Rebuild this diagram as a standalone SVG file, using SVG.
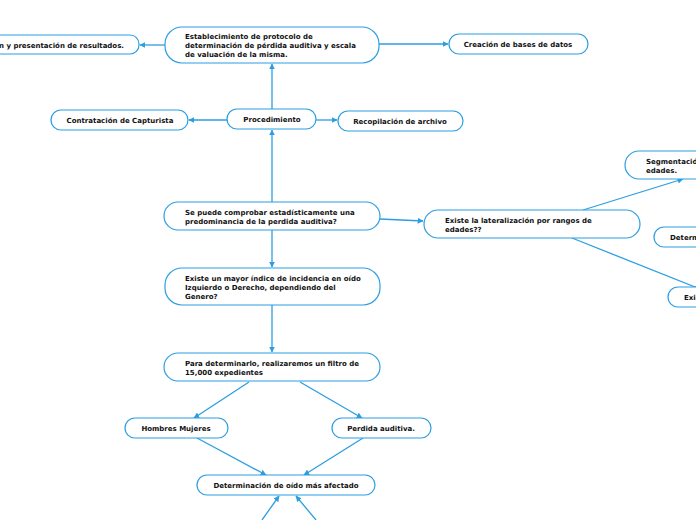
<svg xmlns="http://www.w3.org/2000/svg" width="696" height="520" viewBox="0 0 696 520">
<style>
.n{fill:#fff;stroke:#2b9ee2;stroke-width:1.2}
.t{font-family:"DejaVu Sans",Verdana,sans-serif;font-weight:bold;font-size:7px;fill:#111}
.c{text-anchor:middle}
.e{fill:none;stroke:#2b9ee2;stroke-width:1.3;marker-end:url(#a)}
</style>
<defs>
<marker id="a" viewBox="0 0 10 10" refX="9" refY="5" markerWidth="6" markerHeight="6" markerUnits="userSpaceOnUse" orient="auto">
<path d="M0,0L10,5L0,10z" fill="#2b9ee2"/>
</marker>
</defs>
<rect width="696" height="520" fill="#fff"/>
<g id="connectors">
<path class="e" d="M165,45H140"/>
<path class="e" d="M379,44H448"/>
<path class="e" d="M272,109V64"/>
<path class="e" d="M227,120H189"/>
<path class="e" d="M316,120H337"/>
<path class="e" d="M272,202V130"/>
<path class="e" d="M380,219L423,221"/>
<path class="e" d="M583,210L683,179"/>
<path class="e" d="M572,238L700,289"/>
<path class="e" d="M272,230V267"/>
<path class="e" d="M272,305V352"/>
<path class="e" d="M249,382L194,418"/>
<path class="e" d="M300,382L362,418"/>
<path class="e" d="M197,438L266,475"/>
<path class="e" d="M363,438L304,475"/>
<path class="e" d="M262,520L279,496"/>
<path class="e" d="M316,520L296,496"/>
</g>
<g id="n1"><rect class="n" x="165" y="27" width="214" height="36" rx="17"/>
<text class="t" x="185" y="39">Establecimiento de protocolo de</text>
<text class="t" x="185" y="48">determinación de pérdida auditiva y escala</text>
<text class="t" x="185" y="57">de valuación de la misma.</text></g>
<g id="n2"><rect class="n" x="-30" y="35" width="169" height="19" rx="9"/>
<text class="t" x="124" y="47.5" text-anchor="end">ión y presentación de resultados.</text></g>
<g id="n3"><rect class="n" x="449" y="34" width="139" height="20" rx="10"/>
<text class="t c" x="518" y="47">Creación de bases de datos</text></g>
<g id="n4"><rect class="n" x="51" y="110" width="137" height="20" rx="10"/>
<text class="t c" x="120" y="123">Contratación de Capturista</text></g>
<g id="n5"><rect class="n" x="227" y="109" width="89" height="20" rx="10"/>
<text class="t c" x="272" y="122">Procedimiento</text></g>
<g id="n6"><rect class="n" x="338" y="111" width="125" height="20" rx="10"/>
<text class="t c" x="400" y="124">Recopilación de archivo</text></g>
<g id="n7"><rect class="n" x="164" y="202" width="216" height="28" rx="14"/>
<text class="t" x="185" y="215">Se puede comprobar estadísticamente una</text>
<text class="t" x="185" y="224">predominancia de la perdida auditiva?</text></g>
<g id="n8"><rect class="n" x="424" y="210" width="216" height="28" rx="14"/>
<text class="t" x="445" y="223">Existe la lateralización por rangos de</text>
<text class="t" x="445" y="232">edades??</text></g>
<g id="n9"><rect class="n" x="625" y="151" width="120" height="28" rx="14"/>
<text class="t" x="646" y="164">Segmentación</text>
<text class="t" x="646" y="173">edades.</text></g>
<g id="n10"><rect class="n" x="654" y="227" width="100" height="20" rx="10"/>
<text class="t" x="670" y="240">Determinación</text></g>
<g id="n11"><rect class="n" x="668" y="287" width="100" height="20" rx="10"/>
<text class="t" x="684" y="300">Existe</text></g>
<g id="n12"><rect class="n" x="165" y="268" width="215" height="37" rx="17"/>
<text class="t" x="185" y="281">Existe un mayor índice de incidencia en oído</text>
<text class="t" x="185" y="290">Izquierdo o Derecho, dependiendo del</text>
<text class="t" x="185" y="299">Genero?</text></g>
<g id="n13"><rect class="n" x="164" y="353" width="216" height="28" rx="14"/>
<text class="t" x="185" y="366">Para determinarlo, realizaremos un filtro de</text>
<text class="t" x="185" y="375">15,000 expedientes</text></g>
<g id="n14"><rect class="n" x="125" y="418" width="103" height="20" rx="10"/>
<text class="t c" x="176" y="431">Hombres Mujeres</text></g>
<g id="n15"><rect class="n" x="332" y="418" width="99" height="20" rx="10"/>
<text class="t c" x="381" y="431">Perdida auditiva.</text></g>
<g id="n16"><rect class="n" x="197" y="475" width="178" height="20" rx="10"/>
<text class="t c" x="286" y="488">Determinación de oído más afectado</text></g>
</svg>
